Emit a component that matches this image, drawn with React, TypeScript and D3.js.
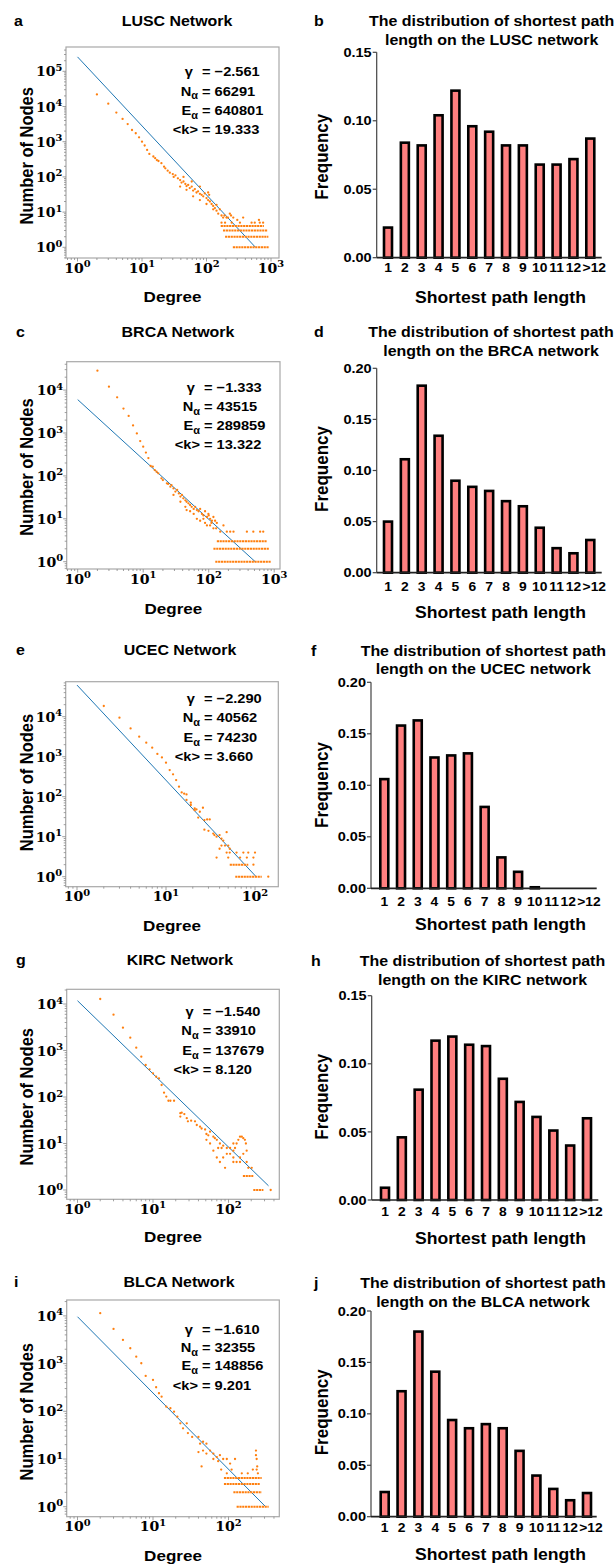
import React from 'react';
import * as d3 from 'd3';

// ---------------- data ----------------
const pathLengthLabels = ['1', '2', '3', '4', '5', '6', '7', '8', '9', '10', '11', '12', '>12'];
const luscFreq = [0.022, 0.084, 0.082, 0.104, 0.122, 0.096, 0.092, 0.082, 0.082, 0.068, 0.068, 0.072, 0.087];
const brcaFreq = [0.050, 0.111, 0.183, 0.134, 0.090, 0.084, 0.080, 0.070, 0.065, 0.044, 0.024, 0.019, 0.032];
const ucecFreq = [0.106, 0.158, 0.163, 0.127, 0.129, 0.131, 0.079, 0.030, 0.016, 0.001, 0, 0, 0];
const kircFreq = [0.009, 0.046, 0.081, 0.117, 0.120, 0.114, 0.113, 0.089, 0.072, 0.061, 0.051, 0.040, 0.060];
const blcaFreq = [0.024, 0.122, 0.180, 0.141, 0.094, 0.086, 0.090, 0.086, 0.064, 0.040, 0.027, 0.016, 0.023];
const freqTicks15 = [0, 0.05, 0.1, 0.15];
const freqTicks20 = [0, 0.05, 0.1, 0.15, 0.2];

// degree distribution points: [degree, number of nodes]
const luscPoints: [number, number][] = [
  [2, 22000], [3, 12000], [4, 6700], [5, 4450], [6, 3170], [7, 2150], [8, 1740], [9, 1330], [10, 1000], [11, 780],
  [12, 585], [13, 450], [15, 380], [16, 340], [17, 300], [18, 283], [20, 245], [22, 195], [23, 175], [25, 150],
  [27, 132], [30, 120], [31, 100], [33, 111], [36, 91], [39, 81], [41, 69], [44, 74], [47, 63], [49, 55],
  [52, 59], [55, 48], [59, 53], [62, 41], [66, 45], [70, 36], [74, 39], [79, 33], [84, 31], [89, 28],
  [94, 34], [100, 25], [106, 22], [110, 31], [113, 20], [120, 17], [127, 15], [135, 13], [143, 11], [143, 16],
  [152, 9], [161, 12], [171, 8], [181, 7], [204, 7], [230, 9], [260, 7], [39, 53], [49, 43], [62, 28],
  [79, 22], [100, 17], [127, 12], [44, 100], [59, 74], [79, 53], [106, 36], [190, 8], [215, 7], [240, 8],
  [300, 6], [370, 7], [171, 5], [194, 5], [246, 5], [330, 5], [500, 5], [560, 5], [670, 5], [755, 5], [650, 6],
];
// dense rows of points: [first degree, last degree, number of nodes]
const luscBands: [number, number, number][] = [[256, 940, 1], [194, 910, 2], [180, 875, 3], [166, 776, 4]];
const luscFit: [number, number][] = [[1, 257000], [575, 1]];
const luscStats = ['−2.561', '66291', '640801', '19.333'];

const brcaPoints: [number, number][] = [
  [2, 28300], [3, 12000], [4, 6800], [5, 3700], [6, 2500], [7, 1500], [8, 980], [9, 650], [10, 480], [11, 350],
  [12, 260], [13, 170], [14, 164], [15, 137], [16, 125], [17, 115], [19, 88], [20, 80], [23, 67], [24, 65],
  [26, 56], [27, 61], [29, 51], [31, 43], [33, 47], [35, 39], [37, 33], [39, 36], [41, 30], [44, 27],
  [46, 25], [49, 23], [52, 21], [55, 19], [59, 17], [62, 19], [66, 16], [70, 15], [74, 17], [79, 13],
  [83, 12], [88, 15], [94, 11], [99, 13], [105, 10], [112, 9], [118, 11], [29, 36], [37, 25], [44, 19],
  [46, 16], [52, 15], [59, 13], [66, 10], [74, 9], [83, 10], [88, 8], [94, 7], [105, 7], [118, 6],
  [133, 8], [150, 5], [168, 7], [189, 5], [213, 5], [239, 5], [383, 5], [480, 5], [610, 5], [680, 5],
  [100, 12], [110, 8], [125, 9], [130, 6],
];
const brcaBands: [number, number, number][] = [[126, 900, 1], [118, 830, 2], [133, 780, 3]];
const brcaFit: [number, number][] = [[1, 6000], [513, 1]];
const brcaStats = ['−1.333', '43515', '289859', '13.322'];

const ucecPoints: [number, number][] = [
  [2, 18500], [3, 9440], [4, 5100], [5, 3160], [6, 2240], [7, 1680], [8, 1170], [9, 960], [10, 710], [11, 464],
  [12, 362], [13, 261], [14, 178], [15, 128], [16, 119], [17, 114], [17, 83], [19, 62], [19, 71], [21, 51],
  [21, 46], [22, 48], [24, 42], [26, 53], [23, 30], [27, 26], [29, 27], [31, 27], [27, 15], [30, 14],
  [34, 12], [35, 11], [37, 10], [40, 11], [42, 9], [48, 13], [44, 8], [42, 6], [46, 6], [50, 6],
  [40, 5], [52, 5], [48, 4], [52, 4], [62, 4], [74, 4], [84, 4], [100, 4], [37, 3], [50, 3],
  [68, 3], [81, 3], [96, 3], [96, 2], [141, 1],
];
const ucecBands: [number, number, number][] = [[52, 84, 2], [60, 119, 1]];
const ucecFit: [number, number][] = [[1, 61700], [103, 1]];
const ucecStats = ['−2.290', '40562', '74230', '3.660'];

const kircPoints: [number, number][] = [
  [2, 12800], [3, 5900], [4, 3100], [5, 1890], [6, 1150], [7, 737], [8, 488], [9, 394], [10, 323], [11, 274],
  [12, 252], [13, 181], [14, 124], [15, 102], [16, 83], [17, 83], [19, 83], [23, 45], [24, 46], [26, 43],
  [23, 38], [28, 35], [29, 30], [32, 31], [36, 30], [38, 25], [42, 23], [44, 21], [49, 20], [51, 16],
  [57, 18], [54, 15], [63, 14], [66, 13], [70, 12], [77, 10], [73, 8], [81, 8], [85, 9], [95, 8],
  [105, 8], [116, 7], [122, 8], [128, 10], [135, 12], [142, 14], [150, 14], [157, 13], [165, 12], [170, 10],
  [116, 10], [105, 6], [95, 6], [85, 5], [77, 4], [70, 5], [63, 7], [57, 10], [51, 12], [116, 5],
  [128, 4], [142, 5], [157, 6], [174, 7], [116, 4], [142, 4], [174, 4], [90, 3], [183, 3], [203, 3],
  [362, 1],
];
const kircBands: [number, number, number][] = [[155, 213, 2], [213, 290, 1]];
const kircFit: [number, number][] = [[1, 11750], [339, 1.23]];
const kircStats = ['−1.540', '33910', '137679', '8.120'];

const blcaPoints: [number, number][] = [
  [2, 11400], [3, 5330], [4, 3140], [5, 2100], [6, 1400], [7, 1016], [8, 551], [10, 454], [11, 319], [12, 239],
  [13, 203], [15, 125], [17, 116], [19, 98], [21, 77], [23, 56], [28, 56], [25, 44], [29, 35], [33, 29],
  [40, 29], [42, 21], [46, 23], [51, 21], [40, 14], [44, 7], [57, 15], [63, 13], [70, 11], [77, 12],
  [85, 10], [95, 10], [105, 8], [63, 10], [73, 9], [51, 13], [46, 15], [122, 10], [231, 15], [231, 12],
  [236, 10], [240, 7], [236, 6], [80, 6], [95, 5], [110, 6], [150, 5], [180, 5], [210, 6], [245, 5],
];
const blcaBands: [number, number, number][] = [[87, 275, 4], [87, 262, 3], [116, 275, 2], [128, 340, 1]];
const blcaFit: [number, number][] = [[1, 9600], [310, 1]];
const blcaStats = ['−1.610', '32355', '148856', '9.201'];

// ---------------- style ----------------
const ORANGE = '#ff7f0e';
const BLUE = '#1f77b4';
const BAR_FILL = '#ff7f7f';
const SANS = "'Liberation Sans', Arial, Helvetica, sans-serif";
const SERIF = "'DejaVu Serif', serif";
const SX = 1.1;

function T({ x, y, anchor = 'start', size, weight = 'bold', family = SANS, rotate = 0, children }: any) {
  return (
    <text
      transform={`translate(${x},${y}) scale(${SX},1)${rotate ? ` rotate(${rotate})` : ''}`}
      textAnchor={anchor}
      fontSize={size}
      fontWeight={weight}
      fontFamily={family}
      fill="#000"
    >
      {children}
    </text>
  );
}

function ScatterPanel({ c }: any) {
  const [x0, x1, y0, y1] = c.box;
  const xs = d3.scaleLog().domain([Math.pow(10, (x0 - c.xo) / c.xd), Math.pow(10, (x1 - c.xo) / c.xd)]).range([x0, x1]);
  const ys = d3.scaleLog().domain([Math.pow(10, (c.yo - y1) / c.yd), Math.pow(10, (c.yo - y0) / c.yd)]).range([y1, y0]);
  const isMajor = (v: number) => Math.abs(Math.log10(v) - Math.round(Math.log10(v))) < 1e-6;
  const line = d3.line<[number, number]>().x((d) => xs(d[0])).y((d) => ys(d[1]));
  const xt = xs.ticks();
  const yt = ys.ticks();
  const statLabels = [
    <>γ</>,
    <>N<tspan fontSize={10} dy={3.5}>α</tspan></>,
    <>E<tspan fontSize={10} dy={3.5}>α</tspan></>,
    <>{'<k>'}</>,
  ];
  return (
    <g>
      <T x={c.letterX} y={c.titleY} size={14.5}>{c.letter}</T>
      <T x={c.titleX} y={c.titleY} size={14.5} anchor="middle">{c.title}</T>
      <rect x={x0} y={y0} width={x1 - x0} height={y1 - y0} fill="none" stroke="#a8a8a8" strokeWidth={1.2} />
      {xt.map((v: number, i: number) => (
        <line key={'xt' + i} x1={xs(v)} x2={xs(v)} y1={y1} y2={y1 + (isMajor(v) ? 3.5 : 2)} stroke="#888" strokeWidth={0.8} />
      ))}
      {yt.map((v: number, i: number) => (
        <line key={'yt' + i} x1={x0} x2={x0 - (isMajor(v) ? 3.5 : 2)} y1={ys(v)} y2={ys(v)} stroke="#888" strokeWidth={0.8} />
      ))}
      {xt.filter(isMajor).map((v: number, i: number) => (
        <T key={'xl' + i} x={xs(v)} y={y1 + 14.5} anchor="middle" size={12.8} family={SERIF}>
          10<tspan fontSize={9} dy={-5.5}>{Math.round(Math.log10(v))}</tspan>
        </T>
      ))}
      {yt.filter(isMajor).map((v: number, i: number) => (
        <T key={'yl' + i} x={x0 - 3.5} y={ys(v) + 5} anchor="end" size={12.8} family={SERIF}>
          10<tspan fontSize={9} dy={-5.5}>{Math.round(Math.log10(v))}</tspan>
        </T>
      ))}
      <path d={line(c.fit) || ''} stroke={BLUE} strokeWidth={1} fill="none" />
      {c.bands.map((b: [number, number, number], i: number) => (
        <line key={'b' + i} x1={xs(b[0])} x2={xs(b[1])} y1={ys(b[2])} y2={ys(b[2])} stroke={ORANGE} strokeWidth={2} strokeDasharray="2.2 0.6" />
      ))}
      {c.points.map((p: [number, number], i: number) => (
        <circle key={'p' + i} cx={xs(p[0])} cy={ys(p[1])} r={1.15} fill={ORANGE} />
      ))}
      {c.stats.map((s: string, i: number) => (
        <g key={'s' + i}>
          <T x={c.statX - (i === 0 ? 9 : 4)} y={c.statY[i]} anchor="end" size={13.3}>{statLabels[i]}</T>
          <T x={c.statX} y={c.statY[i]} size={13.3}>= {s}</T>
        </g>
      ))}
      <T x={(x0 + x1) / 2} y={c.xLabelY} anchor="middle" size={15.5}>Degree</T>
      <T x={33} y={c.yLabelCY} anchor="middle" size={16.5} rotate={-90}>Number of Nodes</T>
    </g>
  );
}

function BarPanel({ c }: any) {
  const y = d3.scaleLinear().domain([0, c.max]).range([c.y0, c.yTop]);
  const x = d3.scalePoint<string>().domain(pathLengthLabels).range([c.c1, c.cN]);
  const w = 8;
  return (
    <g>
      <T x={c.letterX} y={c.titleY[0]} size={14.5}>{c.letter}</T>
      <T x={c.titleX} y={c.titleY[0]} size={14.5} anchor="middle">The distribution of shortest path</T>
      <T x={c.titleX} y={c.titleY[1]} size={14.5} anchor="middle">{`length on the ${c.name} network`}</T>
      {c.values.map((v: number, i: number) =>
        v > 0 ? (
          <rect key={'r' + i} x={(x(pathLengthLabels[i]) as number) - w / 2} y={y(v)} width={w} height={c.y0 - y(v)} fill={BAR_FILL} stroke="#000" strokeWidth={2.6} />
        ) : null
      )}
      <line x1={c.axisX} x2={c.axisX} y1={c.y0} y2={c.yTop} stroke="#444" strokeWidth={1.2} />
      <line x1={c.axisX} x2={c.xEnd} y1={c.y0} y2={c.y0} stroke="#222" strokeWidth={1.7} />
      {c.ticks.map((t: number, i: number) => (
        <g key={'t' + i}>
          <line x1={c.axisX - 4} x2={c.axisX} y1={y(t)} y2={y(t)} stroke="#444" strokeWidth={1.2} />
          <T x={c.axisX - 5} y={y(t) + 4.6} anchor="end" size={13.2}>{d3.format('.2f')(t)}</T>
        </g>
      ))}
      {pathLengthLabels.map((l, i) => (
        <T key={'c' + i} x={(x(l) as number) + (i === pathLengthLabels.length - 1 ? 4 : 0)} y={c.catY} anchor="middle" size={12.6}>{l}</T>
      ))}
      <T x={500.5} y={c.xTitleY} anchor="middle" size={16}>Shortest path length</T>
      <T x={327.5} y={c.yTitleCY} anchor="middle" size={17} rotate={-90}>Frequency</T>
    </g>
  );
}

const scatterPanels = [
  { letter: 'a', letterX: 14, title: 'LUSC Network', titleX: 177, titleY: 25.5, box: [66, 279, 47, 258], xo: 77.5, xd: 64.5, yo: 247.3, yd: 35.2, xLabelY: 302, yLabelCY: 155.8, statX: 202, statY: [76.2, 95.5, 115.2, 133.5], points: luscPoints, bands: luscBands, fit: luscFit, stats: luscStats },
  { letter: 'c', letterX: 16, title: 'BRCA Network', titleX: 178, titleY: 336.5, box: [66.7, 280, 361.7, 569], xo: 77.7, xd: 65.5, yo: 561.7, yd: 42.9, xLabelY: 614, yLabelCY: 467, statX: 204, statY: [392, 411, 430, 448.5], points: brcaPoints, bands: brcaBands, fit: brcaFit, stats: brcaStats },
  { letter: 'e', letterX: 16, title: 'UCEC Network', titleX: 180, titleY: 654.8, box: [65.7, 278.3, 681.7, 886.7], xo: 77, xd: 89, yo: 876.7, yd: 40, xLabelY: 930.5, yLabelCY: 782.5, statX: 204, statY: [702.5, 722, 742, 761], points: ucecPoints, bands: ucecBands, fit: ucecFit, stats: ucecStats },
  { letter: 'g', letterX: 16, title: 'KIRC Network', titleX: 180, titleY: 965, box: [66.7, 279.3, 989.3, 1199.3], xo: 77.5, xd: 75.5, yo: 1190, yd: 46.5, xLabelY: 1242, yLabelCY: 1096.7, statX: 202.7, statY: [1016, 1035, 1055, 1073.5], points: kircPoints, bands: kircBands, fit: kircFit, stats: kircStats },
  { letter: 'i', letterX: 14, title: 'BLCA Network', titleX: 179, titleY: 1286.5, box: [66.7, 279.3, 1300, 1516.7], xo: 77.5, xd: 75.5, yo: 1506.7, yd: 47.7, xLabelY: 1560.5, yLabelCY: 1411.7, statX: 202, statY: [1333.5, 1352, 1370, 1390], points: blcaPoints, bands: blcaBands, fit: blcaFit, stats: blcaStats },
];

const barPanels = [
  { letter: 'b', letterX: 314, name: 'LUSC', values: luscFreq, ticks: freqTicks15, max: 0.15, titleX: 491.7, titleY: [25.5, 45], axisX: 376.7, y0: 257.7, yTop: 52.3, c1: 388, cN: 590.3, xEnd: 601.7, catY: 271.7, xTitleY: 302.5, yTitleCY: 156.7 },
  { letter: 'd', letterX: 314, name: 'BRCA', values: brcaFreq, ticks: freqTicks20, max: 0.2, titleX: 491, titleY: [336.7, 355.7], axisX: 376.7, y0: 572.7, yTop: 368.3, c1: 388, cN: 590.3, xEnd: 601.7, catY: 590.5, xTitleY: 617.5, yTitleCY: 469 },
  { letter: 'f', letterX: 311, name: 'UCEC', values: ucecFreq, ticks: freqTicks20, max: 0.2, titleX: 483.3, titleY: [655.5, 674], axisX: 371, y0: 888.3, yTop: 682.3, c1: 384.3, cN: 585, xEnd: 596.7, catY: 906, xTitleY: 930, yTitleCY: 785 },
  { letter: 'h', letterX: 311, name: 'KIRC', values: kircFreq, ticks: freqTicks15, max: 0.15, titleX: 482.5, titleY: [965.5, 985], axisX: 371.7, y0: 1200, yTop: 995.7, c1: 385, cN: 587, xEnd: 598.3, catY: 1216, xTitleY: 1244, yTitleCY: 1096.7 },
  { letter: 'j', letterX: 314, name: 'BLCA', values: blcaFreq, ticks: freqTicks20, max: 0.2, titleX: 483, titleY: [1287.5, 1306.5], axisX: 371, y0: 1516.7, yTop: 1311, c1: 384.7, cN: 587, xEnd: 596.7, catY: 1531.7, xTitleY: 1560, yTitleCY: 1412.3 },
];

export default function App() {
  return (
    <svg
      width={614}
      height={1564}
      viewBox="0 0 614 1564"
      style={{ position: 'absolute', left: 0, top: 0, background: '#fff' }}
    >
      <rect x={0} y={0} width={614} height={1564} fill="#fff" />
      {scatterPanels.map((c, i) => (
        <ScatterPanel key={'s' + i} c={c} />
      ))}
      {barPanels.map((c, i) => (
        <BarPanel key={'b' + i} c={c} />
      ))}
    </svg>
  );
}
